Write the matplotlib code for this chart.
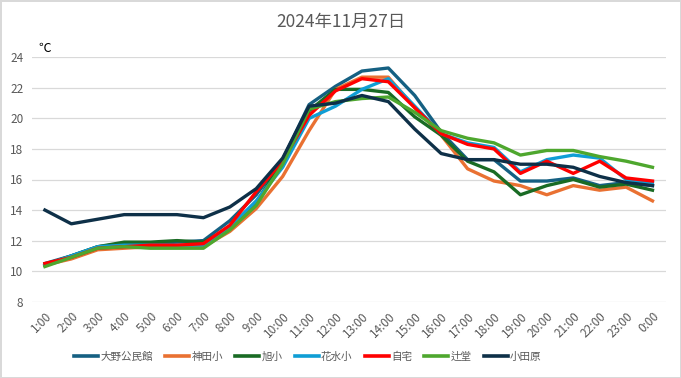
import matplotlib
matplotlib.use("Agg")
import matplotlib.pyplot as plt

plt.rcParams['font.family'] = ['Noto Sans CJK JP', 'DejaVu Sans']

hours = ["1:00", "2:00", "3:00", "4:00", "5:00", "6:00", "7:00", "8:00", "9:00", "10:00",
         "11:00", "12:00", "13:00", "14:00", "15:00", "16:00", "17:00", "18:00", "19:00",
         "20:00", "21:00", "22:00", "23:00", "0:00"]

ono = [10.5, 11.0, 11.6, 11.8, 11.8, 11.9, 12.0, 13.3, 15.0, 17.3, 20.9, 22.1, 23.1, 23.3,
       21.5, 19.1, 17.3, 17.3, 15.9, 15.9, 16.1, 15.6, 15.8, 15.6]
kanda = [10.4, 10.8, 11.4, 11.5, 11.6, 11.6, 11.6, 12.6, 14.1, 16.2, 19.2, 21.9, 22.7, 22.7,
         20.7, 18.9, 16.7, 15.9, 15.6, 15.0, 15.6, 15.3, 15.5, 14.6]
asahi = [10.4, 11.0, 11.6, 11.9, 11.9, 12.0, 11.9, 12.8, 14.5, 17.2, 20.5, 21.9, 21.9, 21.7,
         20.1, 18.9, 17.2, 16.5, 15.0, 15.6, 16.0, 15.5, 15.7, 15.3]
hanamizu = [10.4, 11.0, 11.6, 11.7, 11.7, 11.7, 11.7, 12.9, 14.6, 16.8, 20.0, 20.8, 21.9, 22.6,
            20.8, 19.0, 18.4, 18.1, 16.5, 17.3, 17.6, 17.4, 16.0, 15.8]
jitaku = [10.5, 10.9, 11.5, 11.6, 11.7, 11.7, 11.8, 13.0, 15.2, 17.2, 20.2, 21.8, 22.6, 22.4,
          20.7, 19.0, 18.3, 18.0, 16.4, 17.2, 16.4, 17.2, 16.1, 15.9]
tsujido = [10.3, 10.9, 11.5, 11.6, 11.5, 11.5, 11.5, 12.7, 14.3, 17.0, 20.6, 21.1, 21.3, 21.4,
           20.4, 19.2, 18.7, 18.4, 17.6, 17.9, 17.9, 17.5, 17.2, 16.8]
odawara = [14.0, 13.1, 13.4, 13.7, 13.7, 13.7, 13.5, 14.2, 15.4, 17.4, 20.8, 21.0, 21.5, 21.1,
           19.3, 17.7, 17.3, 17.3, 17.0, 17.0, 16.8, 16.2, 15.8, 15.6]

series_names = ["大野公民館", "神田小", "旭小", "花水小", "自宅", "辻堂", "小田原"]
series_values = [ono, kanda, asahi, hanamizu, jitaku, tsujido, odawara]
colors = ["#156082", "#E97132", "#196B24", "#0F9ED5", "#FF0000", "#4EA72E", "#0E3048"]

W, H = 681, 378
fig = plt.figure(figsize=(W / 100, H / 100), dpi=100)
fig.patch.set_facecolor("white")
fig.patch.set_edgecolor("#D9D9D9")
fig.patch.set_linewidth(1.0)

left, right = 31.7 / W, 665.7 / W
top, bottom = 57.3 / H, 301.7 / H
ax = fig.add_axes([left, 1 - bottom, right - left, bottom - top])

x = list(range(len(hours)))
for name, vals, c in zip(series_names, series_values, colors):
    ax.plot(x, vals, color=c, lw=2.4, label=name, solid_joinstyle="round")

ax.set_xlim(-0.5, len(hours) - 0.5)
ax.set_ylim(8, 24)
ax.set_yticks(range(8, 25, 2))
ax.set_xticks(x)
ax.set_xticklabels(hours, rotation=45, ha="right", rotation_mode="anchor")
ax.grid(axis="y", color="#D9D9D9", lw=0.9)
ax.set_axisbelow(True)
for s in ax.spines.values():
    s.set_visible(False)
ax.tick_params(axis="both", length=0, colors="#595959", labelsize=8.5)
ax.tick_params(axis="x", pad=6)
ax.tick_params(axis="y", pad=6)

fig.text(0.5, 1 - 22 / H, "2024年11月27日", ha="center", va="center",
         fontsize=12.5, color="#595959")
fig.text(38 / W, 1 - 48 / H, "℃", ha="left", va="center", fontsize=9, color="black")

leg = fig.legend(loc="center left", bbox_to_anchor=(74 / W, 1 - 357 / H), ncol=7, frameon=False,
                 fontsize=7.6, handlelength=2.3, columnspacing=1.15, handletextpad=0.2,
                 borderpad=0, borderaxespad=0, labelcolor="#595959")
for line in leg.get_lines():
    line.set_linewidth(2.6)

fig.savefig("out.png", dpi=100)
